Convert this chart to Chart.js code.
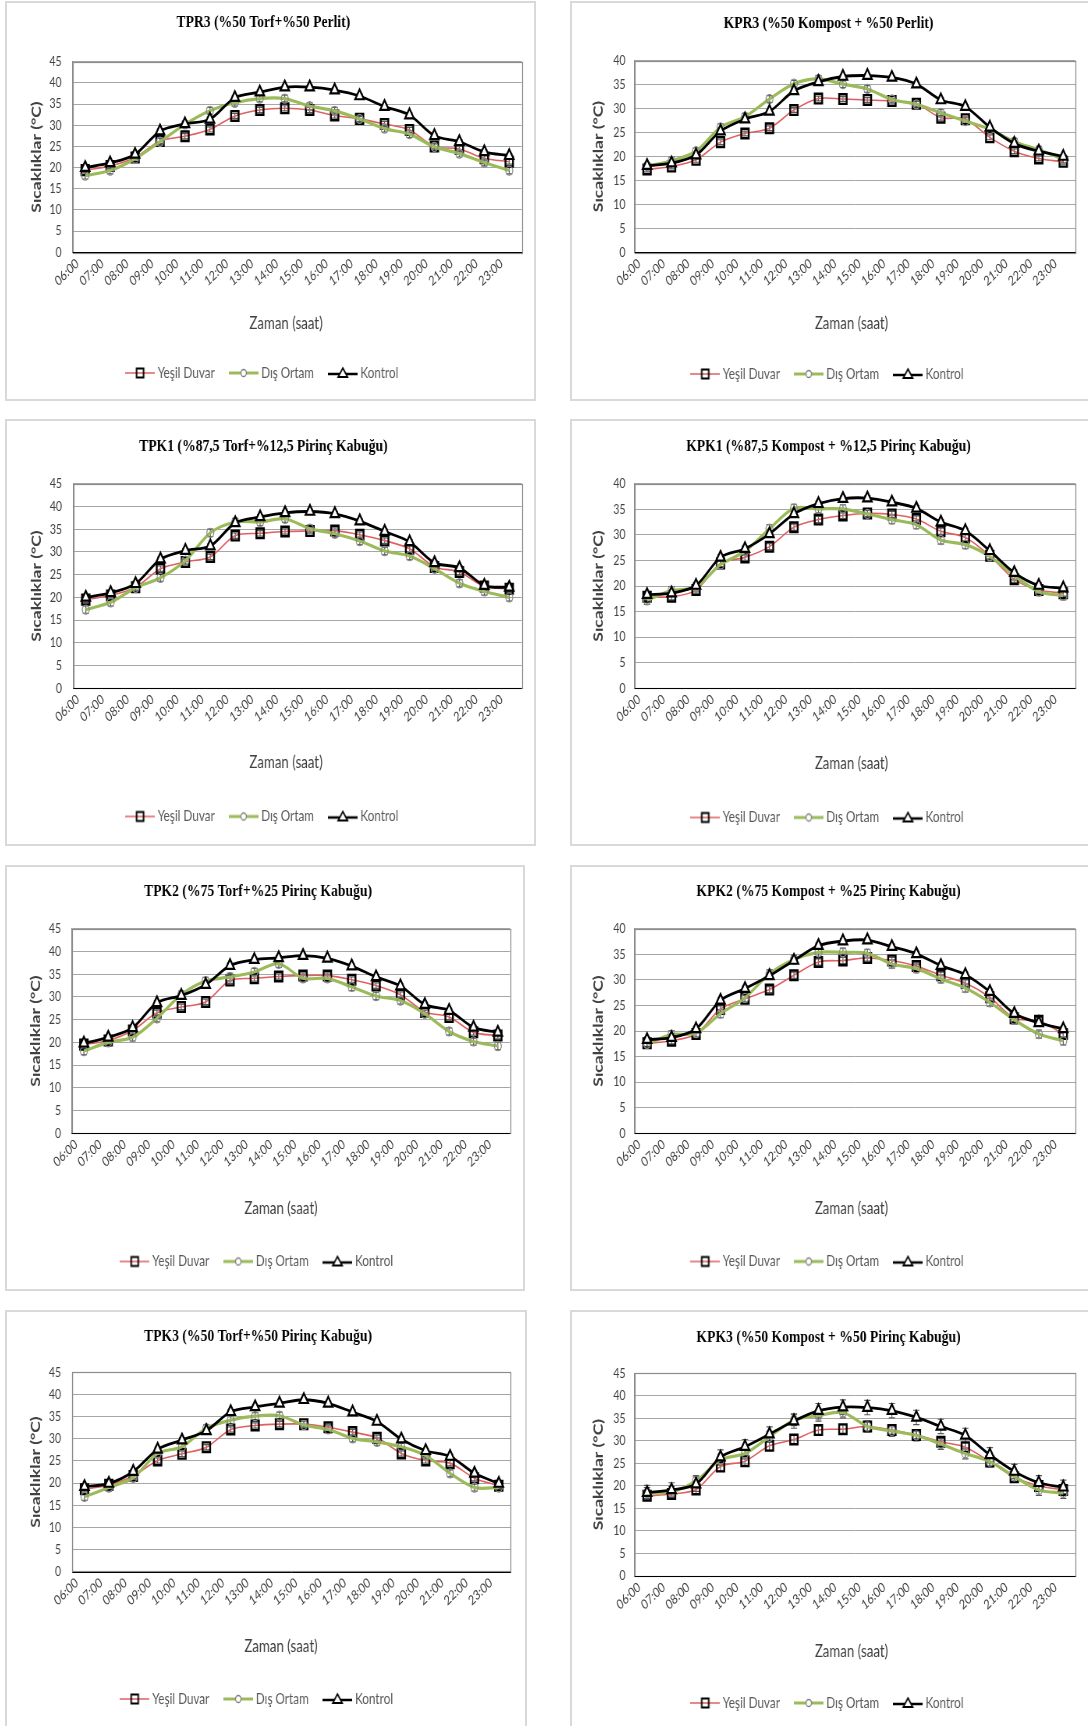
<!DOCTYPE html>
<html lang="tr">
<head>
<meta charset="utf-8">
<title>Sıcaklıklar</title>
<script src="https://cdn.jsdelivr.net/npm/chart.js@4.4.1/dist/chart.umd.min.js"></script>
<style>
  html, body { margin: 0; padding: 0; background: #fff; width: 1088px; height: 1726px; overflow: hidden; }
  .panel { position: absolute; border: 2px solid #d9d9d9; box-sizing: border-box; background: #fff; }
  .holder { position: absolute; transform-origin: 0 0; }
  .holder canvas { display: block; }
</style>
</head>
<body>
<script>
// Hourly readings, 06:00 - 23:00
const hours = ['06:00','07:00','08:00','09:00','10:00','11:00','12:00','13:00','14:00','15:00','16:00','17:00','18:00','19:00','20:00','21:00','22:00','23:00'];
const seriesNames = ['Yeşil Duvar', 'Dış Ortam', 'Kontrol'];

// TPR3 (%50 Torf + %50 Perlit)
const tpr3Yesil   = [19.4, 20.4, 22.4, 26.3, 27.4, 29.0, 32.2, 33.6, 34.0, 33.6, 32.3, 31.5, 30.3, 28.9, 25.0, 24.4, 22.2, 21.4];
const tpr3Dis     = [18.1, 19.3, 22.1, 26.1, 30.2, 33.4, 35.3, 36.3, 36.3, 34.5, 33.4, 31.5, 29.2, 27.9, 24.9, 23.3, 21.2, 19.3];
const tpr3Kontrol = [20.0, 21.1, 23.1, 28.6, 30.3, 31.4, 36.5, 37.8, 39.0, 39.0, 38.3, 36.9, 34.4, 32.4, 27.5, 26.1, 23.7, 22.8];

// KPR3 (%50 Kompost + %50 Perlit)
const kpr3Yesil   = [17.3, 17.9, 19.3, 23.0, 24.8, 25.9, 29.7, 32.1, 32.0, 31.8, 31.6, 31.0, 28.1, 27.8, 24.0, 21.1, 19.6, 18.9];
const kpr3Dis     = [18.0, 19.1, 21.1, 26.1, 28.3, 32.0, 35.2, 36.2, 35.1, 34.1, 31.9, 30.9, 29.1, 27.4, 25.7, 23.1, 21.4, 19.4];
const kpr3Kontrol = [18.1, 18.6, 20.3, 25.3, 27.8, 29.4, 33.7, 35.6, 36.7, 36.9, 36.5, 35.1, 31.8, 30.4, 26.1, 22.7, 21.1, 20.0];

// TPK1 (%87,5 Torf + %12,5 Pirinç Kabuğu)
const tpk1Yesil   = [19.5, 20.4, 22.2, 26.3, 27.8, 28.9, 33.6, 34.1, 34.5, 34.6, 34.7, 33.8, 32.5, 30.7, 26.7, 25.6, 22.4, 21.9];
const tpk1Dis     = [17.3, 18.9, 22.1, 24.3, 28.1, 34.2, 36.6, 36.6, 37.3, 35.1, 34.0, 32.4, 30.2, 29.1, 26.3, 23.1, 21.3, 20.0];
const tpk1Kontrol = [20.0, 21.0, 23.0, 28.4, 30.3, 31.3, 36.4, 37.7, 38.6, 38.9, 38.4, 36.8, 34.5, 32.2, 27.6, 26.5, 22.6, 22.2];

// KPK1 (%87,5 Kompost + %12,5 Pirinç Kabuğu)
const kpk1Yesil   = [17.9, 17.9, 19.2, 24.4, 25.6, 27.7, 31.5, 33.0, 33.8, 34.2, 34.0, 33.1, 30.7, 29.5, 25.9, 21.3, 19.2, 18.6];
const kpk1Dis     = [17.2, 19.1, 19.8, 24.2, 26.8, 31.2, 35.2, 35.1, 35.1, 34.1, 33.0, 32.0, 29.0, 28.1, 25.8, 22.0, 18.9, 18.1];
const kpk1Kontrol = [18.3, 18.6, 20.1, 25.6, 27.3, 30.2, 34.1, 36.1, 37.1, 37.2, 36.4, 35.2, 32.5, 30.8, 26.9, 22.6, 20.1, 19.6];

// TPK2 (%75 Torf + %25 Pirinç Kabuğu)
const tpk2Yesil   = [19.5, 20.4, 22.6, 26.5, 27.8, 28.9, 33.6, 34.1, 34.5, 34.7, 34.7, 33.8, 32.5, 30.5, 26.7, 25.6, 22.2, 21.5];
const tpk2Dis     = [18.1, 20.0, 21.1, 25.3, 30.5, 33.5, 34.4, 35.5, 37.3, 34.1, 34.1, 32.2, 30.2, 29.2, 26.3, 22.4, 20.2, 19.2];
const tpk2Kontrol = [19.8, 21.1, 23.2, 28.7, 30.3, 32.7, 36.9, 38.2, 38.6, 39.1, 38.5, 36.8, 34.4, 32.4, 28.3, 27.0, 23.3, 22.2];

// KPK2 (%75 Kompost + %25 Pirinç Kabuğu)
const kpk2Yesil   = [17.6, 18.1, 19.4, 24.3, 26.3, 28.1, 30.9, 33.5, 33.8, 34.3, 33.8, 32.7, 30.9, 29.4, 26.6, 22.5, 22.0, 19.4];
const kpk2Dis     = [17.5, 19.3, 19.6, 23.4, 26.5, 31.2, 34.0, 35.4, 35.4, 35.2, 33.1, 32.2, 30.2, 28.4, 25.6, 22.2, 19.4, 18.1];
const kpk2Kontrol = [18.3, 18.7, 20.4, 26.0, 28.3, 30.8, 33.8, 36.7, 37.6, 37.8, 36.5, 35.1, 32.8, 31.0, 27.7, 23.4, 21.6, 20.4];

// TPK3 (%50 Torf + %50 Pirinç Kabuğu)
const tpk3Yesil   = [18.6, 19.6, 21.6, 25.1, 26.6, 28.1, 32.1, 33.0, 33.3, 33.3, 32.6, 31.5, 30.2, 26.7, 25.1, 24.5, 21.1, 19.4];
const tpk3Dis     = [16.9, 19.0, 21.2, 26.7, 28.2, 32.4, 34.2, 35.1, 35.2, 33.1, 32.1, 30.1, 29.3, 28.2, 26.2, 22.2, 19.0, 19.0];
const tpk3Kontrol = [19.2, 19.9, 22.6, 27.6, 29.7, 31.8, 36.1, 37.2, 38.0, 38.8, 38.0, 36.0, 33.9, 29.9, 27.3, 26.0, 22.2, 19.9];

// KPK3 (%50 Kompost + %50 Pirinç Kabuğu)
const kpk3Yesil   = [17.8, 18.2, 19.2, 24.3, 25.5, 28.9, 30.3, 32.4, 32.6, 33.2, 32.4, 31.3, 29.8, 28.6, 25.4, 21.9, 20.0, 19.1];
const kpk3Dis     = [18.4, 18.7, 21.1, 25.8, 27.2, 30.9, 34.6, 35.6, 36.3, 33.2, 32.2, 31.2, 29.3, 27.2, 25.4, 22.1, 19.1, 18.4];
const kpk3Kontrol = [18.5, 19.1, 20.4, 26.4, 28.7, 31.5, 34.4, 36.7, 37.5, 37.4, 36.7, 35.2, 33.2, 31.2, 26.9, 23.2, 20.7, 19.7];

// Standard error half-widths per series [Yeşil Duvar, Dış Ortam, Kontrol]
const tpr3Hata = [0.6, 0.8, 0.5];
const kpr3Hata = [0.5, 0.7, 0.4];
const tpk1Hata = [0.6, 0.8, 0.5];
const kpk1Hata = [0.6, 0.8, 0.5];
const tpk2Hata = [0.6, 0.8, 0.5];
const kpk2Hata = [0.6, 0.8, 0.5];
const tpk3Hata = [0.6, 0.8, 0.5];
const kpk3Hata = [1.0, 1.2, 1.6];

const xAxisCaption = 'Zaman (saat)';
const yAxisCaption = 'Sıcaklıklar (°C)';

const SANS = 'Lato, "Open Sans", sans-serif';
const SERIF = '"Liberation Serif", "DejaVu Serif", serif';
const RED = '#e06060';
const GREEN = '#9bbb59';
const BLACK = '#000000';

// Each chart is drawn wide and squeezed horizontally into its frame
const SQUEEZE = 0.78;

// Panel frames and plot-area placement on the page
const panels = [
  { title: 'TPR3 (%50 Torf+%50 Perlit)', yMax: 45, series: [tpr3Yesil, tpr3Dis, tpr3Kontrol], err: tpr3Hata,
    box: [5, 1, 531, 400], plot: [72.7, 61.7, 521.7, 252.3], titleX: 263, titleY: 22, yTitleX: 36.7, tickRight: 61.7, xTitleX: 286, xTitleY: 324, legendY: 373 },
  { title: 'KPR3 (%50 Kompost + %50 Perlit)', yMax: 40, series: [kpr3Yesil, kpr3Dis, kpr3Kontrol], err: kpr3Hata,
    box: [569.5, 1, 522, 400], plot: [634.3, 60.7, 1075, 252.3], titleX: 828, titleY: 23, yTitleX: 598, tickRight: 625, xTitleX: 851, xTitleY: 324, legendY: 374 },
  { title: 'TPK1 (%87,5 Torf+%12,5 Pirinç Kabuğu)', yMax: 45, series: [tpk1Yesil, tpk1Dis, tpk1Kontrol], err: tpk1Hata,
    box: [5, 418.5, 531, 427.5], plot: [73.3, 483.3, 521.7, 687.7], titleX: 263, titleY: 446, yTitleX: 36.7, tickRight: 62, xTitleX: 286, xTitleY: 762, legendY: 816 },
  { title: 'KPK1 (%87,5 Kompost + %12,5 Pirinç Kabuğu)', yMax: 40, series: [kpk1Yesil, kpk1Dis, kpk1Kontrol], err: kpk1Hata,
    box: [569.5, 418.5, 522, 427.5], plot: [634.3, 483.3, 1075, 687.7], titleX: 828, titleY: 446, yTitleX: 598, tickRight: 625, xTitleX: 851, xTitleY: 763, legendY: 817 },
  { title: 'TPK2 (%75 Torf+%25 Pirinç Kabuğu)', yMax: 45, series: [tpk2Yesil, tpk2Dis, tpk2Kontrol], err: tpk2Hata,
    box: [5, 864.5, 520, 426], plot: [71.7, 928.3, 510, 1132.7], titleX: 258, titleY: 891, yTitleX: 36, tickRight: 61, xTitleX: 281, xTitleY: 1208, legendY: 1261 },
  { title: 'KPK2 (%75 Kompost + %25 Pirinç Kabuğu)', yMax: 40, series: [kpk2Yesil, kpk2Dis, kpk2Kontrol], err: kpk2Hata,
    box: [569.5, 864.5, 522, 426], plot: [634.3, 928.3, 1075, 1132.7], titleX: 828, titleY: 891, yTitleX: 598, tickRight: 625, xTitleX: 851, xTitleY: 1208, legendY: 1261 },
  { title: 'TPK3 (%50 Torf+%50 Pirinç Kabuğu)', yMax: 45, series: [tpk3Yesil, tpk3Dis, tpk3Kontrol], err: tpk3Hata,
    box: [5, 1310, 522, 420], plot: [72.3, 1372.3, 511, 1571.7], titleX: 258, titleY: 1336, yTitleX: 36, tickRight: 61, xTitleX: 281, xTitleY: 1647, legendY: 1699 },
  { title: 'KPK3 (%50 Kompost + %50 Pirinç Kabuğu)', yMax: 45, series: [kpk3Yesil, kpk3Dis, kpk3Kontrol], err: kpk3Hata,
    box: [569.5, 1310, 522, 420], plot: [634.3, 1373.3, 1075, 1576], titleX: 828, titleY: 1337, yTitleX: 598, tickRight: 625, xTitleX: 851, xTitleY: 1652, legendY: 1703 }
];

// Small line-and-marker swatches for the legend (canvas units, before squeezing)
function legendIcon(kind) {
  const c = document.createElement('canvas');
  c.width = 38; c.height = 14;
  const g = c.getContext('2d');
  g.lineCap = 'butt';
  if (kind === 0) {
    g.strokeStyle = RED; g.lineWidth = 1.6;
    g.beginPath(); g.moveTo(0, 7); g.lineTo(38, 7); g.stroke();
    g.strokeStyle = '#000'; g.lineWidth = 2;
    g.strokeRect(14.5, 2.5, 9, 9);
  } else if (kind === 1) {
    g.strokeStyle = GREEN; g.lineWidth = 3;
    g.beginPath(); g.moveTo(0, 7); g.lineTo(38, 7); g.stroke();
    g.fillStyle = '#fff'; g.strokeStyle = '#7f7f7f'; g.lineWidth = 1.3;
    g.beginPath(); g.arc(19, 7, 3.5, 0, Math.PI * 2); g.fill(); g.stroke();
  } else {
    g.strokeStyle = BLACK; g.lineWidth = 2.6;
    g.beginPath(); g.moveTo(0, 8); g.lineTo(38, 8); g.stroke();
    g.fillStyle = '#fff'; g.strokeStyle = '#000'; g.lineWidth = 1.8;
    g.beginPath(); g.moveTo(19, 2); g.lineTo(25, 11); g.lineTo(13, 11); g.closePath(); g.fill(); g.stroke();
  }
  return c;
}
const legendIcons = [legendIcon(0), legendIcon(1), legendIcon(2)];

// Vertical error bars with caps, drawn beneath the markers
const errorBars = {
  id: 'errorBars',
  beforeDatasetsDraw(chart) {
    const { ctx } = chart;
    const y = chart.scales.y;
    chart.data.datasets.forEach((ds, i) => {
      const e = ds.errHalf;
      if (!e) return;
      const meta = chart.getDatasetMeta(i);
      ctx.save();
      ctx.strokeStyle = '#595959';
      ctx.lineWidth = 1.2;
      meta.data.forEach((pt, j) => {
        const v = ds.data[j];
        const y1 = y.getPixelForValue(v + e);
        const y2 = y.getPixelForValue(v - e);
        ctx.beginPath();
        ctx.moveTo(pt.x, y1); ctx.lineTo(pt.x, y2);
        ctx.moveTo(pt.x - 4, y1); ctx.lineTo(pt.x + 4, y1);
        ctx.moveTo(pt.x - 4, y2); ctx.lineTo(pt.x + 4, y2);
        ctx.stroke();
      });
      ctx.restore();
    });
  }
};

// Thin frame around the plot area
const plotFrame = {
  id: 'plotFrame',
  beforeDatasetsDraw(chart) {
    const { ctx, chartArea: a } = chart;
    ctx.save();
    ctx.strokeStyle = '#8c8c8c';
    ctx.lineWidth = 1.2;
    ctx.strokeRect(Math.round(a.left) + 0.5, Math.round(a.top) + 0.5, Math.round(a.right - a.left), Math.round(a.bottom - a.top));
    ctx.strokeStyle = '#000';
    ctx.lineWidth = 1;
    ctx.beginPath();
    ctx.moveTo(a.left, Math.round(a.bottom) + 0.5);
    ctx.lineTo(a.right, Math.round(a.bottom) + 0.5);
    ctx.stroke();
    ctx.restore();
  }
};

// Horizontal axis caption, placed under the rotated hour labels
const xCaption = {
  id: 'xCaption',
  afterDraw(chart, args, opts) {
    const { ctx } = chart;
    ctx.save();
    ctx.font = `${opts.size}px ${SANS}`;
    ctx.fillStyle = '#404040';
    ctx.textAlign = 'center';
    ctx.textBaseline = 'middle';
    ctx.fillText(opts.text, opts.x, opts.y);
    ctx.restore();
  }
};

function buildPanel(p) {
  const S = SQUEEZE;
  const [bx, by, bw, bh] = p.box;
  const frame = document.createElement('div');
  frame.className = 'panel';
  Object.assign(frame.style, { left: bx + 'px', top: by + 'px', width: bw + 'px', height: bh + 'px' });
  document.body.appendChild(frame);

  const W = Math.round(bw / S), H = Math.round(bh);
  const holder = document.createElement('div');
  holder.className = 'holder';
  Object.assign(holder.style, { left: bx + 'px', top: by + 'px', width: W + 'px', height: H + 'px', transform: `scaleX(${S})` });
  document.body.appendChild(holder);

  const canvas = document.createElement('canvas');
  canvas.width = W;
  canvas.height = H;
  canvas.style.width = W + 'px';
  canvas.style.height = H + 'px';
  holder.appendChild(canvas);

  // page x -> canvas x
  const cx = (x) => (x - bx) / S;
  const pl = cx(p.plot[0]), pr = cx(p.plot[2]);
  const pt = p.plot[1] - by, pb = p.plot[3] - by;

  const padR = W - pr;
  const padL = Math.max(0, 2 * cx(p.titleX) - W + padR);

  const titleSize = 17.5, titleLH = titleSize * 1.2;
  const tPadTop = (p.titleY - by) - titleLH / 2;
  const tPadBottom = pt - tPadTop - titleLH;

  const legendFont = 15, legendPad = 22;
  const padB = H - legendFont / 2 - 10 - (p.legendY - by);
  const legendTop = H - padB - (legendFont + legendPad + 10);
  const xAxisH = legendTop - pb;

  const yAxisW = pl - padL;
  const yTitleSize = 17.5, yTitleLH = yTitleSize * 1.2;
  const yTitlePadTop = cx(p.yTitleX) - padL - yTitleLH / 2;
  const yTickPad = pl - cx(p.tickRight);

  const styles = [
    { borderColor: RED, borderWidth: 1.6, pointStyle: 'rect', pointRadius: 6.8, pointBorderWidth: 2.4,
      pointBorderColor: '#000', pointBackgroundColor: 'rgba(255,255,255,0)', order: 2 },
    { borderColor: GREEN, borderWidth: 3.2, pointStyle: 'circle', pointRadius: 4.5, pointBorderWidth: 1.3,
      pointBorderColor: '#8c8c8c', pointBackgroundColor: 'rgba(255,255,255,0)', order: 1 },
    { borderColor: BLACK, borderWidth: 2.8, pointStyle: 'triangle', pointRadius: 6.5, pointBorderWidth: 2.2,
      pointBorderColor: '#000', pointBackgroundColor: '#ffffff', order: 0 }
  ];

  const datasets = p.series.map((vals, i) => Object.assign({
    label: seriesNames[i],
    data: vals,
    errHalf: p.err[i],
    fill: false,
    tension: 0.3,
    pointHoverRadius: 6
  }, styles[i]));

  new Chart(canvas, {
    type: 'line',
    data: { labels: hours, datasets },
    plugins: [errorBars, plotFrame, xCaption],
    options: {
      responsive: false,
      animation: false,
      devicePixelRatio: 1,
      events: [],
      layout: { padding: { top: 0, left: padL, right: padR, bottom: padB } },
      plugins: {
        xCaption: { text: xAxisCaption, size: 17, x: cx(p.xTitleX), y: p.xTitleY - by },
        title: {
          display: true, text: p.title, color: '#000',
          font: { family: SERIF, size: titleSize, weight: 'bold', lineHeight: 1.2 },
          padding: { top: tPadTop, bottom: tPadBottom }
        },
        legend: {
          display: true, position: 'bottom', align: 'center',
          labels: {
            usePointStyle: true, pointStyleWidth: 30, padding: legendPad,
            color: '#595959', font: { family: SANS, size: legendFont },
            generateLabels: (chart) => chart.data.datasets.map((ds, i) => ({
              text: ds.label, pointStyle: legendIcons[i], fillStyle: 'rgba(0,0,0,0)',
              strokeStyle: 'rgba(0,0,0,0)', lineWidth: 0, hidden: false, datasetIndex: i, fontColor: '#595959'
            }))
          }
        },
        tooltip: { enabled: false }
      },
      scales: {
        x: {
          type: 'category', offset: true,
          grid: { display: false, drawTicks: false },
          border: { display: true, color: '#000', width: 1 },
          ticks: { autoSkip: false, maxRotation: 38, minRotation: 38, padding: 3, labelOffset: -10,
                   color: '#404040', font: { family: SANS, size: 13.5 } },
          title: { display: false },
          afterFit: (s) => { s.height = xAxisH; }
        },
        y: {
          min: 0, max: p.yMax,
          grid: { color: '#a6a6a6', drawTicks: false, lineWidth: 1 },
          border: { display: true, color: '#8c8c8c', width: 1.2 },
          ticks: { stepSize: 5, padding: yTickPad, color: '#404040', font: { family: SANS, size: 13.5 } },
          title: { display: true, text: yAxisCaption, color: '#404040',
                   font: { family: SANS, size: yTitleSize, weight: 'bold', lineHeight: 1.2 }, padding: { top: yTitlePadTop, bottom: 0 } },
          afterFit: (s) => { s.width = yAxisW; }
        }
      }
    }
  });
}

panels.forEach(buildPanel);
</script>
</body>
</html>
